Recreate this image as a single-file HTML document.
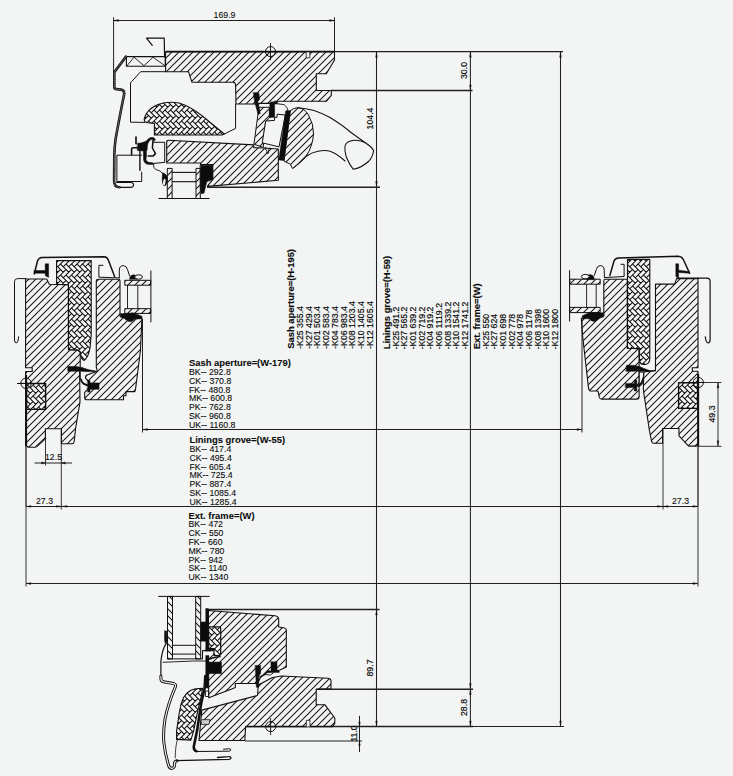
<!DOCTYPE html>
<html><head><meta charset="utf-8"><title>Section drawing</title>
<style>
html,body{margin:0;padding:0;background:#f3f5f4;}
body{width:733px;height:776px;overflow:hidden;font-family:"Liberation Sans",sans-serif;}
svg{display:block;}
svg text{font-family:"Liberation Sans",sans-serif;}
</style></head><body>
<svg width="733" height="776" viewBox="0 0 733 776">
<rect width="733" height="776" fill="#f3f5f4"/>

<defs>
<pattern id="h7" patternUnits="userSpaceOnUse" width="7" height="7">
  <path d="M-1,8 L8,-1 M-1,1 L1,-1 M6,8 L8,6" stroke="#151515" stroke-width="1.05" fill="none"/>
</pattern>
<pattern id="h7b" patternUnits="userSpaceOnUse" width="7" height="7">
  <path d="M-1,-1 L8,8 M-1,6 L1,8 M6,-1 L8,1" stroke="#151515" stroke-width="1.05" fill="none"/>
</pattern>
<pattern id="h5" patternUnits="userSpaceOnUse" width="5" height="5">
  <path d="M-1,6 L6,-1 M-1,1 L1,-1 M4,6 L6,4" stroke="#151515" stroke-width="0.95" fill="none"/>
</pattern>
<pattern id="hb" patternUnits="userSpaceOnUse" width="11" height="22">
<rect width="11" height="22" fill="#f3f5f4"/>
<path d="M-8.25,2.75 L-5.5,0 L0,5.5 L-2.75,8.25 Z M-5.5,0 L0,-5.5 L2.75,-2.75 L-2.75,2.75 Z M-8.25,13.75 L-5.5,11 L0,16.5 L-2.75,19.25 Z M-5.5,11 L0,5.5 L2.75,8.25 L-2.75,13.75 Z M-2.75,2.75 L0,0 L5.5,5.5 L2.75,8.25 Z M0,0 L5.5,-5.5 L8.25,-2.75 L2.75,2.75 Z M-8.25,24.75 L-5.5,22 L0,27.5 L-2.75,30.25 Z M-5.5,22 L0,16.5 L2.75,19.25 L-2.75,24.75 Z M-2.75,13.75 L0,11 L5.5,16.5 L2.75,19.25 Z M0,11 L5.5,5.5 L8.25,8.25 L2.75,13.75 Z M2.75,2.75 L5.5,0 L11,5.5 L8.25,8.25 Z M5.5,0 L11,-5.5 L13.75,-2.75 L8.25,2.75 Z M-2.75,24.75 L0,22 L5.5,27.5 L2.75,30.25 Z M0,22 L5.5,16.5 L8.25,19.25 L2.75,24.75 Z M2.75,13.75 L5.5,11 L11,16.5 L8.25,19.25 Z M5.5,11 L11,5.5 L13.75,8.25 L8.25,13.75 Z M8.25,2.75 L11,0 L16.5,5.5 L13.75,8.25 Z M11,0 L16.5,-5.5 L19.25,-2.75 L13.75,2.75 Z M2.75,24.75 L5.5,22 L11,27.5 L8.25,30.25 Z M5.5,22 L11,16.5 L13.75,19.25 L8.25,24.75 Z M8.25,13.75 L11,11 L16.5,16.5 L13.75,19.25 Z M11,11 L16.5,5.5 L19.25,8.25 L13.75,13.75 Z M8.25,24.75 L11,22 L16.5,27.5 L13.75,30.25 Z M11,22 L16.5,16.5 L19.25,19.25 L13.75,24.75 Z" fill="none" stroke="#0e0e0e" stroke-width="1.05"/>
</pattern>
</defs>

<line x1="113.5" y1="20.5" x2="334.5" y2="20.5" stroke="#202020" stroke-width="1"/>
<line x1="113.6" y1="17.3" x2="113.6" y2="75" stroke="#202020" stroke-width="1"/>
<line x1="334.5" y1="17.3" x2="334.5" y2="60" stroke="#202020" stroke-width="1"/>
<path d="M113.5,20.5 L118.5,19.6 L118.5,21.4 Z" fill="#101010" stroke="#101010" stroke-width="0.3" stroke-linejoin="round" />
<path d="M334.5,20.5 L329.5,19.6 L329.5,21.4 Z" fill="#101010" stroke="#101010" stroke-width="0.3" stroke-linejoin="round" />
<text transform="translate(224.5,18) scale(1.042,1)" font-size="8.4"  text-anchor="middle" fill="#0c0c0c" stroke="#0c0c0c" stroke-width="0.1">169.9</text>
<line x1="334" y1="51.6" x2="563" y2="51.6" stroke="#202020" stroke-width="1.4"/>
<line x1="331" y1="90.5" x2="472.5" y2="90.5" stroke="#202020" stroke-width="1.4"/>
<line x1="376.5" y1="51.8" x2="376.5" y2="726.5" stroke="#202020" stroke-width="1.05"/>
<line x1="470.4" y1="51.8" x2="470.4" y2="726.5" stroke="#202020" stroke-width="1.05"/>
<line x1="560.5" y1="51.8" x2="560.5" y2="726.5" stroke="#202020" stroke-width="1.05"/>
<line x1="207" y1="187.3" x2="380" y2="187.3" stroke="#202020" stroke-width="1.4"/>
<text transform="translate(373.3,118.5) rotate(-90) scale(1.067,1)" font-size="8.2"  text-anchor="middle" fill="#0c0c0c" stroke="#0c0c0c" stroke-width="0.18">104.4</text>
<text transform="translate(466.8,70.5) rotate(-90) scale(1.067,1)" font-size="8.2"  text-anchor="middle" fill="#0c0c0c" stroke="#0c0c0c" stroke-width="0.18">30.0</text>
<path d="M376.5,52.3 L375.6,57.3 L377.4,57.3 Z" fill="#101010" stroke="#101010" stroke-width="0.3" stroke-linejoin="round" />
<path d="M376.5,186.5 L375.6,181.5 L377.4,181.5 Z" fill="#101010" stroke="#101010" stroke-width="0.3" stroke-linejoin="round" />
<path d="M470.4,52.3 L469.5,57.3 L471.3,57.3 Z" fill="#101010" stroke="#101010" stroke-width="0.3" stroke-linejoin="round" />
<path d="M470.4,90 L469.5,85 L471.3,85 Z" fill="#101010" stroke="#101010" stroke-width="0.3" stroke-linejoin="round" />
<path d="M560.5,52.3 L559.6,57.3 L561.4,57.3 Z" fill="#101010" stroke="#101010" stroke-width="0.3" stroke-linejoin="round" />
<line x1="142.5" y1="429.5" x2="582" y2="429.5" stroke="#202020" stroke-width="1.05"/>
<line x1="26" y1="506.4" x2="698" y2="506.4" stroke="#202020" stroke-width="1.05"/>
<line x1="26" y1="583.5" x2="698" y2="583.5" stroke="#202020" stroke-width="1.05"/>
<line x1="26" y1="445" x2="26" y2="506.4" stroke="#202020" stroke-width="1.3"/>
<line x1="26" y1="506.4" x2="26" y2="586.5" stroke="#555" stroke-width="1.2"/>
<line x1="142.5" y1="319" x2="142.5" y2="432.5" stroke="#202020" stroke-width="1"/>
<line x1="45.5" y1="428.8" x2="45.5" y2="465.5" stroke="#202020" stroke-width="0.9"/>
<line x1="61.3" y1="428.8" x2="61.3" y2="509.5" stroke="#202020" stroke-width="0.9"/>
<line x1="34.5" y1="463" x2="72" y2="463" stroke="#202020" stroke-width="1.1"/>
<path d="M45.5,463 L41.5,461.9 L41.5,464.1 Z" fill="#101010" stroke="#101010" stroke-width="0.3" stroke-linejoin="round" />
<path d="M61.3,463 L65.3,461.9 L65.3,464.1 Z" fill="#101010" stroke="#101010" stroke-width="0.3" stroke-linejoin="round" />
<text transform="translate(53.5,460.3) scale(1.042,1)" font-size="8.4"  text-anchor="middle" fill="#0c0c0c" stroke="#0c0c0c" stroke-width="0.1">12.5</text>
<text transform="translate(44.5,504) scale(1.042,1)" font-size="8.4"  text-anchor="middle" fill="#0c0c0c" stroke="#0c0c0c" stroke-width="0.1">27.3</text>
<path d="M26,506.4 L31,505.5 L31,507.3 Z" fill="#101010" stroke="#101010" stroke-width="0.3" stroke-linejoin="round" />
<path d="M61.3,506.4 L56.3,505.5 L56.3,507.3 Z" fill="#101010" stroke="#101010" stroke-width="0.3" stroke-linejoin="round" />
<path d="M62,506.4 L67,505.5 L67,507.3 Z" fill="#101010" stroke="#101010" stroke-width="0.3" stroke-linejoin="round" />
<path d="M26,583.5 L31,582.6 L31,584.4 Z" fill="#101010" stroke="#101010" stroke-width="0.3" stroke-linejoin="round" />
<path d="M698,583.5 L693,582.6 L693,584.4 Z" fill="#101010" stroke="#101010" stroke-width="0.3" stroke-linejoin="round" />
<path d="M142.5,429.5 L147.5,428.6 L147.5,430.4 Z" fill="#101010" stroke="#101010" stroke-width="0.3" stroke-linejoin="round" />
<path d="M582,429.5 L577,428.6 L577,430.4 Z" fill="#101010" stroke="#101010" stroke-width="0.3" stroke-linejoin="round" />
<line x1="698" y1="445" x2="698" y2="506.4" stroke="#202020" stroke-width="1.3"/>
<line x1="698" y1="506.4" x2="698" y2="586.5" stroke="#555" stroke-width="1.2"/>
<line x1="582" y1="319" x2="582" y2="432.5" stroke="#202020" stroke-width="1"/>
<line x1="663" y1="428.8" x2="663" y2="509.5" stroke="#202020" stroke-width="0.9"/>
<text transform="translate(680.5,504) scale(1.042,1)" font-size="8.4"  text-anchor="middle" fill="#0c0c0c" stroke="#0c0c0c" stroke-width="0.1">27.3</text>
<path d="M698,506.4 L693,505.5 L693,507.3 Z" fill="#101010" stroke="#101010" stroke-width="0.3" stroke-linejoin="round" />
<path d="M663,506.4 L668,505.5 L668,507.3 Z" fill="#101010" stroke="#101010" stroke-width="0.3" stroke-linejoin="round" />
<path d="M662.3,506.4 L657.3,505.5 L657.3,507.3 Z" fill="#101010" stroke="#101010" stroke-width="0.3" stroke-linejoin="round" />
<line x1="697.5" y1="382.5" x2="721.5" y2="382.5" stroke="#202020" stroke-width="0.9"/>
<line x1="697.5" y1="446.3" x2="721.5" y2="446.3" stroke="#202020" stroke-width="0.9"/>
<line x1="718" y1="382.5" x2="718" y2="446.3" stroke="#202020" stroke-width="0.9"/>
<path d="M718,383 L717.1,388 L718.9,388 Z" fill="#101010" stroke="#101010" stroke-width="0.3" stroke-linejoin="round" />
<path d="M718,445.8 L717.1,440.8 L718.9,440.8 Z" fill="#101010" stroke="#101010" stroke-width="0.3" stroke-linejoin="round" />
<text transform="translate(715.3,414) rotate(-90) scale(1.067,1)" font-size="8.2"  text-anchor="middle" fill="#0c0c0c" stroke="#0c0c0c" stroke-width="0.18">49.3</text>
<line x1="208" y1="609.5" x2="379.5" y2="609.5" stroke="#202020" stroke-width="1.3"/>
<line x1="316.3" y1="689.25" x2="473" y2="689.25" stroke="#202020" stroke-width="1.5"/>
<line x1="246" y1="726.5" x2="473" y2="726.5" stroke="#202020" stroke-width="1.45"/>
<line x1="473" y1="726.5" x2="564" y2="726.5" stroke="#202020" stroke-width="1"/>
<line x1="245" y1="740.95" x2="362" y2="740.95" stroke="#202020" stroke-width="1.1"/>
<line x1="359.5" y1="715.8" x2="359.5" y2="752" stroke="#202020" stroke-width="1"/>
<path d="M359.5,726 L358.6,722 L360.4,722 Z" fill="#101010" stroke="#101010" stroke-width="0.3" stroke-linejoin="round" />
<path d="M359.5,741.5 L358.6,745.5 L360.4,745.5 Z" fill="#101010" stroke="#101010" stroke-width="0.3" stroke-linejoin="round" />
<text transform="translate(356.5,733.5) rotate(-90) scale(1.067,1)" font-size="8.2"  text-anchor="middle" fill="#0c0c0c" stroke="#0c0c0c" stroke-width="0.18">11.0</text>
<text transform="translate(373.2,668) rotate(-90) scale(1.067,1)" font-size="8.2"  text-anchor="middle" fill="#0c0c0c" stroke="#0c0c0c" stroke-width="0.18">89.7</text>
<text transform="translate(466.8,707.5) rotate(-90) scale(1.067,1)" font-size="8.2"  text-anchor="middle" fill="#0c0c0c" stroke="#0c0c0c" stroke-width="0.18">28.8</text>
<path d="M376.5,610 L375.6,615 L377.4,615 Z" fill="#101010" stroke="#101010" stroke-width="0.3" stroke-linejoin="round" />
<path d="M376.5,726 L375.6,721 L377.4,721 Z" fill="#101010" stroke="#101010" stroke-width="0.3" stroke-linejoin="round" />
<path d="M470.4,689.5 L469.5,694.5 L471.3,694.5 Z" fill="#101010" stroke="#101010" stroke-width="0.3" stroke-linejoin="round" />
<path d="M470.4,726 L469.5,721 L471.3,721 Z" fill="#101010" stroke="#101010" stroke-width="0.3" stroke-linejoin="round" />
<path d="M470.4,688.5 L469.5,683.5 L471.3,683.5 Z" fill="#101010" stroke="#101010" stroke-width="0.3" stroke-linejoin="round" />
<path d="M560.5,726 L559.6,721 L561.4,721 Z" fill="#101010" stroke="#101010" stroke-width="0.3" stroke-linejoin="round" />
<path d="M152.3,45.4 L146.5,38.1 L164.2,38.1 L164.6,57" fill="none" stroke="#101010" stroke-width="1.2" stroke-linejoin="round" stroke-linecap="round" />
<path d="M126.4,56.6 L165.2,56.6 L165.2,66.2 L126.4,66.2 Z" fill="none" stroke="#101010" stroke-width="1.1" stroke-linejoin="round" />
<path d="M127,65.8 L134,57.2 L144,65.8 L153,57.2 L165,65.8" fill="none" stroke="#101010" stroke-width="0.9" stroke-linejoin="round" stroke-linecap="round" />
<path d="M165.6,52 L334.5,52 L334.5,60 L326.3,73.8 L316.3,73.8 L316.3,90.5 L331.3,90.5 L331.3,95.5 L326.3,101.3 L274.8,101.3 L274.8,103.4 L259.2,103.4 L259.2,104 L236,104 L235.6,85 Q235.4,82.4 233,82.3 L191.9,82.2 L188.5,71.7 L165.6,71.7 Z" fill="url(#h7)" stroke="#101010" stroke-width="1.1" stroke-linejoin="round" stroke-linecap="round" />
<path d="M306.2,52 L306.2,57.8 L309.8,57.8 L309.8,52" fill="#f3f5f4" stroke="#101010" stroke-width="0.8" stroke-linejoin="round" stroke-linecap="round" />
<line x1="165.6" y1="51.6" x2="334.5" y2="51.6" stroke="#101010" stroke-width="1.5"/>
<circle cx="270.5" cy="51.6" r="5" fill="none" stroke="#101010" stroke-width="1.0"/>
<line x1="264" y1="51.6" x2="277" y2="51.6" stroke="#101010" stroke-width="0.9"/>
<line x1="270.5" y1="43.1" x2="270.5" y2="60.1" stroke="#101010" stroke-width="0.9"/>
<path d="M165.6,71.7 L140.7,71.7 L130.5,82.8 L130.5,122.2 L144.5,122.4" fill="none" stroke="#101010" stroke-width="1" stroke-linejoin="round" stroke-linecap="round" />
<path d="M235.6,104 L235.6,128.4 L224.3,134" fill="none" stroke="#101010" stroke-width="1" stroke-linejoin="round" stroke-linecap="round" />
<path d="M147.6,122.8 Q143.5,122 144.3,118.4 Q147,109 158,104.5 Q168,100.8 179,103 Q190,106 203,116.5 L224.3,134 L222,135 L154.4,135 L154.4,123.4 Z" fill="url(#hb)" stroke="#101010" stroke-width="1.1" stroke-linejoin="round" stroke-linecap="round" />
<path d="M119,187.4 L131,187.4 Q133.6,187.2 133.6,184.8 Q133.5,182.5 131,182.5 L116.5,182.5" fill="none" stroke="#101010" stroke-width="1.1" stroke-linejoin="round" stroke-linecap="round" />
<path d="M126,56.6 L114.3,72.2 L114.3,87 Q114.3,89 116.3,89.1 L121,89.6 Q124.6,90.5 124.2,94 Q119,120 115.6,139 Q114.4,147 114.3,156 L114.1,181 Q114.2,187.3 119.5,187.3" fill="none" stroke="#101010" stroke-width="2.6" stroke-linejoin="round" stroke-linecap="round" />
<path d="M126,56.6 L114.3,72.2 L114.3,87 Q114.3,89 116.3,89.1 L121,89.6 Q124.6,90.5 124.2,94 Q119,120 115.6,139 Q114.4,147 114.3,156 L114.1,181 Q114.2,187.3 119.5,187.3" fill="none" stroke="#f3f5f4" stroke-width="0.5" stroke-linejoin="round" stroke-linecap="round" stroke-dasharray="0.7 1.4"/>
<path d="M141.7,155.2 L116.9,155.2 L116.9,181.5 L141.7,181.5 L141.7,172.2" fill="none" stroke="#101010" stroke-width="1" stroke-linejoin="round" stroke-linecap="round" />
<path d="M137.6,143.2 L141,143 L146,141.2 L148.5,138.8 L150.3,137.6 L153.6,137.6 L155.4,140 L154.2,141 L152.8,139.6 L150.8,139.6 L149,141.5 L147.6,144 L147,150.5 L146.3,151 L146.6,160.5 L148,162.2 L152.8,162.8 L152.8,164.4 L147,164.2 L144.6,162.5 L143.6,160 L143.4,151 L137.6,150.5 Z" fill="#0c0c0c" stroke="#101010" stroke-width="0.6" stroke-linejoin="round" stroke-linecap="round" />
<path d="M153.9,138.6 L152.9,141 L152.4,148 L155.5,153.6 L153,156.1 L148.2,156.1" fill="none" stroke="#101010" stroke-width="1.5" stroke-linejoin="round" stroke-linecap="round" />
<path d="M131.6,154.6 L131.6,149.2 Q131.6,147.7 133.2,147.7 L139,147.7" fill="none" stroke="#101010" stroke-width="1.6" stroke-linejoin="round" stroke-linecap="round" />
<path d="M136,137 L136,143.6" fill="none" stroke="#101010" stroke-width="1.7" stroke-linejoin="round" stroke-linecap="round" />
<path d="M139.9,150 L139.9,170.2" fill="none" stroke="#101010" stroke-width="1.4" stroke-linejoin="round" stroke-linecap="round" />
<ellipse cx="147.1" cy="159" rx="0.7" ry="1.9" fill="#f3f5f4"/>
<path d="M153.5,142.3 L164.7,142.3 L164.7,162.4 L152.8,163.5" fill="none" stroke="#101010" stroke-width="1" stroke-linejoin="round" stroke-linecap="round" />
<path d="M153.6,164 Q153,168 155.5,169.3 Q161,170.6 162.6,173.4" fill="none" stroke="#101010" stroke-width="0.9" stroke-linejoin="round" stroke-linecap="round" />
<path d="M162.8,173 Q167.8,174 167.3,180 Q166.8,186 164.2,185.8 Q162,184 162.3,178 Q162.3,175 162.8,173 Z" fill="#0c0c0c" stroke="#101010" stroke-width="0.7" stroke-linejoin="round" stroke-linecap="round" />
<ellipse cx="164.3" cy="182" rx="1.2" ry="3.2" fill="#f3f5f4" transform="rotate(8 164.3 182)"/>
<path d="M168.3,140.3 L253.7,144.9 L253.7,147.6 L263.2,148 L278.3,149 L278.3,180.3 L207.3,186.4 L212.7,179.6 L212.7,164.6 L200.5,164.6 L200.5,163 L166.7,163 L166.7,142 Q166.7,140.2 168.3,140.3 Z" fill="url(#h7)" stroke="#101010" stroke-width="1.1" stroke-linejoin="round" stroke-linecap="round" />
<path d="M200.3,165.2 L212.8,165.2 L212.8,179.6 L206.8,181.8 L204,193.2 L201.3,193.8 L200.3,188 Z" fill="#0c0c0c" stroke="#101010" stroke-width="0.5" stroke-linejoin="round" stroke-linecap="round" />
<path d="M167.3,168.4 L172.1,168.4 L172.1,198.5 L167.3,198.5 Z" fill="url(#h7)" stroke="#101010" stroke-width="1" stroke-linejoin="round" />
<path d="M196,168.4 L200.3,168.4 L200.3,198.5 L196,198.5 Z" fill="url(#h7)" stroke="#101010" stroke-width="1" stroke-linejoin="round" />
<line x1="172.1" y1="172.4" x2="196" y2="172.4" stroke="#101010" stroke-width="1.1"/>
<line x1="172.1" y1="181.7" x2="196" y2="181.7" stroke="#101010" stroke-width="1.1"/>
<line x1="158.5" y1="198.5" x2="209.5" y2="198.5" stroke="#101010" stroke-width="1"/>
<path d="M259.3,107.3 L269.4,107.3 L269.4,118 L266,121 L263.2,147.4 L254.3,144.3 Z" fill="url(#h7)" stroke="#101010" stroke-width="1" stroke-linejoin="round" stroke-linecap="round" />
<path d="M253.5,92.7 L258.8,92.7 L259.5,99.5 L257.9,101.5 L260.2,113.6 L258.2,114.6 L254.6,101.5 Z" fill="#0c0c0c" stroke="#101010" stroke-width="0.6" stroke-linejoin="round" stroke-linecap="round" />
<path d="M270.7,101.9 L277.5,101.6 L277.5,103.8 L274.6,104.2 L274.6,117.3 L269.6,117.6 L269.8,104.6 Z" fill="#0c0c0c" stroke="#101010" stroke-width="0.5" stroke-linejoin="round" stroke-linecap="round" />
<path d="M266,121 L274.5,120.4 L274.6,117.4 L277,117.3 L277,114.2 L285.3,115 L279,146.9 L262.6,142.9 Z" fill="#f3f5f4" stroke="#101010" stroke-width="1" stroke-linejoin="round" stroke-linecap="round" />
<path d="M277.5,103.8 L284,104.6 L287,107.5 L288,110.8" fill="none" stroke="#101010" stroke-width="0.9" stroke-linejoin="round" stroke-linecap="round" />
<path d="M265.8,147.2 L265.8,150 L267,150.5 L266.6,153.3 L268.6,153.3 L268.4,150.5 L269.5,148" fill="none" stroke="#101010" stroke-width="0.8" stroke-linejoin="round" stroke-linecap="round" />
<path d="M290.3,110.8 Q293.5,107.7 297.8,107.7 Q304.5,108 308.5,115 Q313.8,124 313.5,134 Q312.8,146 306,156.5 Q300,163.5 292.5,168.5 L290.3,164.2 L284.3,161.2 Z" fill="url(#h7)" stroke="#101010" stroke-width="1" stroke-linejoin="round" stroke-linecap="round" />
<line x1="293.5" y1="168" x2="305.5" y2="157.5" stroke="#101010" stroke-width="0.9"/>
<path d="M285.7,110.7 L290.5,110.7 L284.1,160.6 L278.8,159.9 Z" fill="#0c0c0c" stroke="#101010" stroke-width="0.5" stroke-linejoin="round" />
<path d="M297.8,107.7 Q314,108.5 330,117.5 Q343,125.5 351,132.5 Q360,139 366,143.2" fill="none" stroke="#101010" stroke-width="1.05" stroke-linejoin="round" stroke-linecap="round" />
<path d="M306,156.5 Q311.5,152.3 318,151.2 Q325,150 330,151.2 Q337,153.5 345,161" fill="none" stroke="#101010" stroke-width="1.05" stroke-linejoin="round" stroke-linecap="round" />
<path d="M345,146 Q346,141.2 354,140.2 Q361,140 366,143.2 Q371.5,146.5 373.6,150.5 Q373,156.5 369,161 Q362.5,167.3 353.3,169.3 Q349,164 346.3,157 Q344.3,151 345,146 Z" fill="#f3f5f4" stroke="#101010" stroke-width="1.05" stroke-linejoin="round" stroke-linecap="round" />
<path d="M56.6,260.6 L91.2,260.6 L91.2,335 L90,348 Q88.5,357 84.3,360.4 Q81,360.3 80.4,352 L77.5,350 L68.5,349.6 L68.5,284.6 L56.6,284.4 Z" fill="url(#hb)" stroke="#101010" stroke-width="1.1" stroke-linejoin="round" stroke-linecap="round" />
<path d="M25.6,279 L46.6,279 L49.3,284.3 L68.4,284.8 L68.4,349.8 L77.5,350 L80.2,352.2 L80.2,366 L79.6,372 L80,401.8 L75.5,429 L74.2,441.5 Q73.8,443.8 72,443.8 L61.4,443.8 L61.4,428.7 L45.4,428.7 L45.4,438 L35.3,447.2 L28.3,447.2 L25.6,445 L25.6,371.5 L32.2,371.5 L32.2,367.8 L25.6,367.8 Z" fill="url(#h7)" stroke="#101010" stroke-width="1.1" stroke-linejoin="round" stroke-linecap="round" />
<line x1="36.6" y1="447.2" x2="46.4" y2="438.3" stroke="#101010" stroke-width="0.8"/>
<path d="M26.6,383.5 L45.6,383.5 L45.6,409.4 L26.6,409.4 Z" fill="url(#hb)" stroke="#101010" stroke-width="1.4" stroke-linejoin="round" />
<line x1="26.1" y1="375" x2="26.1" y2="446" stroke="#101010" stroke-width="2"/>
<circle cx="26.05" cy="383.3" r="5.2" fill="none" stroke="#101010" stroke-width="1.0"/>
<line x1="19.55" y1="383.3" x2="32.55" y2="383.3" stroke="#101010" stroke-width="0.9"/>
<line x1="26.05" y1="374.8" x2="26.05" y2="391.8" stroke="#101010" stroke-width="0.9"/>
<line x1="17" y1="383.5" x2="31" y2="383.5" stroke="#101010" stroke-width="1"/>
<path d="M96.3,281 Q96.3,279.3 98,279.3 L118.5,279.3 Q120,279.3 120,281 L120,315.6 L141.9,318 L140.5,350 L135.5,389.5 L134.8,391.6 L126,391.6 L126,395.7 L123.5,395.7 L123.5,399.8 L87,399.8 Q84.7,399.8 84.7,397.5 L84.7,392.4 L88,388.9 L98.7,388.9 L98.7,383.4 L90.5,383.4 L85.8,378.5 Q84.8,376.3 87,375 L97.3,371.2 L96.3,367.2 Z" fill="url(#h7)" stroke="#101010" stroke-width="1.1" stroke-linejoin="round" stroke-linecap="round" />
<path d="M68,366.6 L76,366.4 Q82,367 88,369.6 L95.9,371 L95.9,371.8 L86,371.6 Q81,371 78.5,371.2 L68,371.2 Z" fill="#0c0c0c" stroke="#101010" stroke-width="0.6" stroke-linejoin="round" stroke-linecap="round" />
<path d="M80.3,372 L80.3,379" fill="none" stroke="#101010" stroke-width="0.9" stroke-linejoin="round" stroke-linecap="round" />
<path d="M80.9,379.5 Q82,384.3 88.5,385.6" fill="none" stroke="#101010" stroke-width="1.9" stroke-linejoin="round" stroke-linecap="round" />
<path d="M87.7,380.6 L90,380.6 L90,383.4 L98.7,383.4 L98.7,388.9 L90,388.9 L90,392 L87.7,392 Z" fill="#0c0c0c" stroke="#101010" stroke-width="0.5" stroke-linejoin="round" stroke-linecap="round" />
<path d="M120.5,313.6 L127.5,313.6 L133,312.8 L141.9,316.2 L141.9,318.8 L134.5,319.2 Q131,323.5 127,320.5 Q124,317.5 120.5,317.3 Z" fill="#0c0c0c" stroke="#101010" stroke-width="0.5" stroke-linejoin="round" stroke-linecap="round" />
<path d="M124.8,280.3 L150.7,280.3 L150.7,285.2 L124.8,285.2 Z" fill="url(#h7)" stroke="#101010" stroke-width="1" stroke-linejoin="round" />
<path d="M124.8,308.7 L150.7,308.7 L150.7,313.4 L124.8,313.4 Z" fill="url(#h7)" stroke="#101010" stroke-width="1" stroke-linejoin="round" />
<line x1="127.5" y1="285.2" x2="127.5" y2="308.7" stroke="#101010" stroke-width="0.9"/>
<line x1="137.8" y1="285.2" x2="137.8" y2="308.7" stroke="#101010" stroke-width="0.9"/>
<line x1="150.9" y1="270.5" x2="150.9" y2="322.3" stroke="#101010" stroke-width="1"/>
<path d="M129.6,279.3 Q129.6,275 134,274.8 L137,276 L137,279.3 Z" fill="#0c0c0c" stroke="#101010" stroke-width="0.5" stroke-linejoin="round" stroke-linecap="round" />
<ellipse cx="138.6" cy="277" rx="3.9" ry="2.2" fill="#f3f5f4" stroke="#101010" stroke-width="1"/>
<path d="M119.3,277.8 L119.3,270 Q119.5,265.6 123.4,265.6 Q126.6,265.8 127.5,269.5 L129.6,276" fill="none" stroke="#101010" stroke-width="1" stroke-linejoin="round" stroke-linecap="round" />
<path d="M103,265.3 L98.9,265.3 L98.9,277.2 L119.3,277.9" fill="none" stroke="#101010" stroke-width="1" stroke-linejoin="round" stroke-linecap="round" />
<path d="M34.3,274 L37.5,261 Q38.6,257.6 42,257.4 L104,256.8 Q107.3,257 108.3,260 L114.6,276.6" fill="none" stroke="#101010" stroke-width="1.5" stroke-linejoin="round" stroke-linecap="round" />
<path d="M34.3,270.5 L45.2,270.5 L45.2,263.8 L48.6,263.8 L48.6,277.4 L45.2,275.6 L45.2,273.2 L34.3,273.2 Z" fill="#0c0c0c" stroke="#101010" stroke-width="0.5" stroke-linejoin="round" stroke-linecap="round" />
<path d="M25.6,278.6 L17.5,278.6 Q14.5,278.6 14.5,281.6 L14.5,340 Q14.6,343 16.6,343 Q18.3,342.6 18.6,336.8" fill="none" stroke="#101010" stroke-width="1" stroke-linejoin="round" stroke-linecap="round" />
<path d="M627.5,259.4 L649.8,259.4 L649.8,358 Q649.8,363.5 646,364.3 Q641,365.3 639.6,361.5 L639.1,348.6 L627.5,348.2 Z" fill="url(#hb)" stroke="#101010" stroke-width="1.1" stroke-linejoin="round" stroke-linecap="round" />
<path d="M655.5,284.1 L674.6,284.1 L676.6,278.6 L698,278.6 L698,367.8 L692.3,367.8 L692.3,371.3 L698,371.3 L698,444.5 L696.3,446.1 L688.6,446.1 L679,435.8 L679,428.5 L662.6,428.5 L662.6,443.2 L653.5,443.2 Q652,443 651.6,441.3 L649.4,430.5 L643.3,389.6 L643.8,372.6 L645.5,371.6 L655.5,370.6 Z" fill="url(#h7)" stroke="#101010" stroke-width="1.1" stroke-linejoin="round" stroke-linecap="round" />
<path d="M678.6,382.8 L697.6,382.8 L697.6,408.4 L678.6,408.4 Z" fill="url(#hb)" stroke="#101010" stroke-width="1.4" stroke-linejoin="round" />
<line x1="698.2" y1="374" x2="698.2" y2="446" stroke="#101010" stroke-width="1.9"/>
<circle cx="698.3" cy="382.5" r="5.1" fill="none" stroke="#101010" stroke-width="1.0"/>
<line x1="691.8" y1="382.5" x2="704.8" y2="382.5" stroke="#101010" stroke-width="0.9"/>
<line x1="698.3" y1="374" x2="698.3" y2="391" stroke="#101010" stroke-width="0.9"/>
<path d="M603.8,281 Q603.8,279.3 605.5,279.3 L627.3,279.3 L627.3,348.3 L639.1,348.7 L639.1,397 Q639,399.1 637,399.1 L601.5,399.1 Q599.6,399 599.2,397 L598,391 L590,391 L588.6,388.9 L582.5,335 L581.3,318.2 L603.8,315.5 Z" fill="url(#h7)" stroke="#101010" stroke-width="1.1" stroke-linejoin="round" stroke-linecap="round" />
<path d="M639.6,372 L643.6,372.3 L643.3,380 Q642.5,385.5 639.6,386.5 Z" fill="#f3f5f4" stroke="#101010" stroke-width="0.9" stroke-linejoin="round" stroke-linecap="round" />
<path d="M626.2,366 Q626.2,365.2 627.5,365.2 L634,365.4 Q640,366 644,368.5 L649.6,370.6 L649.6,371.5 L639,371.3 Q636,370.6 634,371.2 L626.2,371.2 Z" fill="#0c0c0c" stroke="#101010" stroke-width="0.6" stroke-linejoin="round" stroke-linecap="round" />
<path d="M649.6,371 L655.5,370.6" fill="none" stroke="#101010" stroke-width="1" stroke-linejoin="round" stroke-linecap="round" />
<path d="M625.5,383.4 L634.3,383.4 L634.3,380 L636.8,380 L636.8,391 L634.3,391 L634.3,387.6 L625.5,387.6 Z" fill="#0c0c0c" stroke="#101010" stroke-width="0.5" stroke-linejoin="round" stroke-linecap="round" />
<path d="M636.8,386.2 Q641.5,385.5 643.2,378.5" fill="none" stroke="#101010" stroke-width="1.8" stroke-linejoin="round" stroke-linecap="round" />
<path d="M569.8,279.2 L600.2,279.2 L600.2,284.2 L569.8,284.2 Z" fill="url(#h7)" stroke="#101010" stroke-width="1" stroke-linejoin="round" />
<path d="M569.8,307.4 L600.2,307.4 L600.2,312.6 L569.8,312.6 Z" fill="url(#h7)" stroke="#101010" stroke-width="1" stroke-linejoin="round" />
<line x1="586.6" y1="284.2" x2="586.6" y2="307.4" stroke="#101010" stroke-width="0.9"/>
<line x1="596.2" y1="284.2" x2="596.2" y2="307.4" stroke="#101010" stroke-width="0.9"/>
<line x1="569.6" y1="270.2" x2="569.6" y2="321.6" stroke="#101010" stroke-width="1"/>
<path d="M603.5,312.8 L596,312.8 L590,312.3 L582.3,315.8 L582.3,318.6 L589,318.8 Q593,323.3 597,320.2 Q600,317.3 603.5,317 Z" fill="#0c0c0c" stroke="#101010" stroke-width="0.5" stroke-linejoin="round" stroke-linecap="round" />
<path d="M594.2,279.2 Q594.2,275 590,274.6 L586.5,275.8 L586.5,279.2 Z" fill="#0c0c0c" stroke="#101010" stroke-width="0.5" stroke-linejoin="round" stroke-linecap="round" />
<ellipse cx="585.3" cy="276.6" rx="3.9" ry="2.2" fill="#f3f5f4" stroke="#101010" stroke-width="1"/>
<path d="M604.4,277.5 L604.2,270 Q604,265.6 600.2,265.6 Q597,265.8 596.3,269.5 L594.3,275.5" fill="none" stroke="#101010" stroke-width="1" stroke-linejoin="round" stroke-linecap="round" />
<path d="M621,264.3 L624.1,264.3 L624.1,276.5 L604.4,277.6" fill="none" stroke="#101010" stroke-width="1" stroke-linejoin="round" stroke-linecap="round" />
<path d="M609.8,275.6 L614,261 Q615,258.2 618.5,257.9 L678,256.3 Q682.3,256.6 683.8,260.5 L689.6,273.2" fill="none" stroke="#101010" stroke-width="1.5" stroke-linejoin="round" stroke-linecap="round" />
<path d="M676,263.8 L678.6,263.8 L678.6,270.2 L689.4,271.6 L689.6,273.3 L678.6,272.4 L678.6,278.3 L676,276.5 Z" fill="#0c0c0c" stroke="#101010" stroke-width="0.5" stroke-linejoin="round" stroke-linecap="round" />
<path d="M677,278.2 L698,278.2" fill="none" stroke="#101010" stroke-width="1.6" stroke-linejoin="round" stroke-linecap="round" />
<path d="M698,278.2 L706.8,278.2 Q710.1,278.3 710.1,281.6 L710.1,340 Q710,343 708,343 Q705.8,342.5 705.3,336.8" fill="none" stroke="#101010" stroke-width="1.2" stroke-linejoin="round" stroke-linecap="round" />
<line x1="158.2" y1="596.4" x2="209.6" y2="596.4" stroke="#101010" stroke-width="1"/>
<path d="M167.5,596.4 L172.5,596.4 L172.5,658.9 L167.5,658.9 Z" fill="url(#h7b)" stroke="#101010" stroke-width="1" stroke-linejoin="round" />
<path d="M195.7,596.4 L200.7,596.4 L200.7,658.9 L195.7,658.9 Z" fill="url(#h7b)" stroke="#101010" stroke-width="1" stroke-linejoin="round" />
<line x1="172.5" y1="645.3" x2="195.7" y2="645.3" stroke="#101010" stroke-width="1"/>
<line x1="172.5" y1="654.1" x2="195.7" y2="654.1" stroke="#101010" stroke-width="1"/>
<path d="M167.5,658.9 L202.5,658.9 L202.5,650.7 L212.8,650.7" fill="none" stroke="#101010" stroke-width="1" stroke-linejoin="round" stroke-linecap="round" />
<path d="M163,662.3 L193.7,661 L205.5,661" fill="none" stroke="#101010" stroke-width="0.9" stroke-linejoin="round" stroke-linecap="round" />
<path d="M208.4,610.5 L275,615.8 Q278.3,616.2 278.7,619 L278.7,627 L284.5,628 Q286.3,628.4 286.3,630 L286.3,667 L280,670 L267.3,672.3 L260.5,677.5 L257.5,683.5 L235.3,683.5 L235.3,687.6 L233,688.5 L208.7,697.8 Z" fill="url(#h7)" stroke="#101010" stroke-width="1.1" stroke-linejoin="round" stroke-linecap="round" />
<path d="M201.8,710.1 L257.5,695.5 L258.3,685 L272.5,677.5 L281.5,676 L328,678.3 Q331,678.5 331,681 L331,688.9 L316.2,689.2 L316.2,704.8 L325,704.8 L334.8,718 L334.8,723.5 L332.5,726.6 L245.6,726.6 L244.8,740.5 L199,740.5 Z" fill="url(#h7)" stroke="#101010" stroke-width="1.1" stroke-linejoin="round" stroke-linecap="round" />
<path d="M306.3,726.6 L306.3,720.3 L310,720.3 L310,726.6" fill="#f3f5f4" stroke="#101010" stroke-width="0.8" stroke-linejoin="round" stroke-linecap="round" />
<circle cx="270.6" cy="726.6" r="5" fill="none" stroke="#101010" stroke-width="1.0"/>
<line x1="264.1" y1="726.6" x2="277.1" y2="726.6" stroke="#101010" stroke-width="0.9"/>
<line x1="270.6" y1="718.1" x2="270.6" y2="735.1" stroke="#101010" stroke-width="0.9"/>
<path d="M201.2,719.7 L210,719.7 L209,724.4 L201.2,724.4 Z" fill="#cfd1d0" stroke="#101010" stroke-width="0.8" stroke-linejoin="round" />
<path d="M206,608.6 L208.2,608.6 L208.2,688 L206,688 Z" fill="#0c0c0c" stroke="#101010" stroke-width="0.6" stroke-linejoin="round" stroke-linecap="round" />
<path d="M200.7,622 L208.7,622 L208.7,641.2 L200.7,641.2 Z" fill="#0c0c0c" stroke="#101010" stroke-width="0.5" stroke-linejoin="round" />
<path d="M210,626.8 L218.5,626.8 Q220.7,626.8 220.7,629 L220.7,653.5 Q220.7,655.5 218.5,655.5 L214,655.5 L214,648.5 L208.7,648.5 L208.7,628 Q208.7,626.8 210,626.8 Z" fill="url(#hb)" stroke="#101010" stroke-width="1.2" stroke-linejoin="round" stroke-linecap="round" />
<path d="M206.6,649.6 L214.2,649.6" fill="none" stroke="#101010" stroke-width="2" stroke-linejoin="round" stroke-linecap="round" />
<path d="M207,656 L207,660 L214,657.5 L220,656.5" fill="none" stroke="#101010" stroke-width="1.4" stroke-linejoin="round" stroke-linecap="round" />
<path d="M202.5,651.4 L212.5,651.4 L212.5,655.3 L202.5,655.3 Z" fill="#f3f5f4" stroke="#f3f5f4" stroke-width="0.01" stroke-linejoin="round" />
<path d="M202.5,658.9 L202.5,650.7 L212.8,650.7" fill="none" stroke="#101010" stroke-width="1" stroke-linejoin="round" stroke-linecap="round" />
<path d="M206.6,662.1 L221.5,662.1 L221.5,673.6 L206.6,673.6 Z" fill="#0c0c0c" stroke="#101010" stroke-width="0.5" stroke-linejoin="round" />
<path d="M255.3,665.4 L260.6,665.4 L260.6,673.4 L258.8,676 L258.6,687.3 L256.4,687.3 L255.8,676 Z" fill="#0c0c0c" stroke="#101010" stroke-width="0.5" stroke-linejoin="round" stroke-linecap="round" />
<path d="M271,661.8 L277,661.8 L277,670.8 L279.3,670.8 L279.3,672.4 L267.3,672.4 L267.3,670.8 L271,670.8 Z" fill="#0c0c0c" stroke="#101010" stroke-width="0.5" stroke-linejoin="round" stroke-linecap="round" />
<path d="M259.5,676.5 L266,674.5 Q270.5,676.5 273.5,673" fill="none" stroke="#101010" stroke-width="0.9" stroke-linejoin="round" stroke-linecap="round" />
<path d="M205.8,691 L208.5,691 L208.5,696.5 L205.8,696.5 Z" fill="#f3f5f4" stroke="#101010" stroke-width="0.9" stroke-linejoin="round" stroke-linecap="round" />
<path d="M202.5,688.3 Q195,688.5 190.9,690.3 Q186,693 183.4,697.8 Q180.5,704 179.3,712.8 L176.6,730.6 L176.6,739.4 L190.9,740.1 L193.7,730.6 L197.1,714.2 L201.2,696.5 Z" fill="url(#hb)" stroke="#101010" stroke-width="1.1" stroke-linejoin="round" stroke-linecap="round" />
<path d="M205.3,676 L204.6,688.3 L201.2,703.3 L197.1,730.6 L193.8,746.5 Q193.6,750.6 196.5,751.2" fill="none" stroke="#101010" stroke-width="2.6" stroke-linejoin="round" stroke-linecap="round" />
<path d="M196.5,751.5 L229.2,751.2 Q231.2,750.8 230.8,749.5 Q230.3,748.5 228.5,748.8 L223.5,749.3" fill="none" stroke="#101010" stroke-width="1" stroke-linejoin="round" stroke-linecap="round" />
<path d="M166.4,643.2 Q162.3,649 160.9,661 L160.9,678.5" fill="none" stroke="#101010" stroke-width="1.2" stroke-linejoin="round" stroke-linecap="round" />
<path d="M160.9,676 L160.9,678.5 Q160.9,681.3 163.5,681.8 L173.5,683.6 Q176.3,684.3 175.3,687 Q168,704 165,719 Q163,732 163.8,742 Q165,754 168.8,766 Q170.2,769 172.5,768.2 Q174.8,767 174.6,764.5 Q174.3,761 177,760.7" fill="none" stroke="#101010" stroke-width="3" stroke-linejoin="round" stroke-linecap="round" />
<path d="M160.9,676 L160.9,678.5 Q160.9,681.3 163.5,681.8 L173.5,683.6 Q176.3,684.3 175.3,687 Q168,704 165,719 Q163,732 163.8,742 Q165,754 168.8,766 Q170.2,769 172.5,768.2 Q174.8,767 174.6,764.5 Q174.3,761 177,760.7" fill="none" stroke="#f3f5f4" stroke-width="1.1" stroke-linejoin="round" stroke-linecap="round" />
<path d="M176,760.6 L229,759.3 Q231.2,759 230.8,757.3 Q230.3,756.4 228.5,756.6 L217.5,757.5" fill="none" stroke="#101010" stroke-width="1.3" stroke-linejoin="round" stroke-linecap="round" />
<path d="M164.7,631 L166.8,631 L167,641.8 L165.2,643.5 Q164,640 164.7,631 Z" fill="#0c0c0c" stroke="#101010" stroke-width="0.5" stroke-linejoin="round" stroke-linecap="round" />
<path d="M177.3,740.1 Q175.5,745 175.2,757.9" fill="none" stroke="#101010" stroke-width="0.8" stroke-linejoin="round" stroke-linecap="round" />
<text transform="translate(189,365.5) scale(1.119,1)" font-size="8.4" font-weight="bold" text-anchor="start" fill="#0c0c0c" stroke="#0c0c0c" stroke-width="0.08">Sash aperture=(W-179)</text>
<text transform="translate(189,375) scale(1.042,1)" font-size="8.4"  text-anchor="start" fill="#0c0c0c" stroke="#0c0c0c" stroke-width="0.1">BK-- 292.8</text>
<text transform="translate(189,383.83) scale(1.042,1)" font-size="8.4"  text-anchor="start" fill="#0c0c0c" stroke="#0c0c0c" stroke-width="0.1">CK-- 370.8</text>
<text transform="translate(189,392.66) scale(1.042,1)" font-size="8.4"  text-anchor="start" fill="#0c0c0c" stroke="#0c0c0c" stroke-width="0.1">FK-- 480.8</text>
<text transform="translate(189,401.49) scale(1.042,1)" font-size="8.4"  text-anchor="start" fill="#0c0c0c" stroke="#0c0c0c" stroke-width="0.1">MK-- 600.8</text>
<text transform="translate(189,410.32) scale(1.042,1)" font-size="8.4"  text-anchor="start" fill="#0c0c0c" stroke="#0c0c0c" stroke-width="0.1">PK-- 762.8</text>
<text transform="translate(189,419.15) scale(1.042,1)" font-size="8.4"  text-anchor="start" fill="#0c0c0c" stroke="#0c0c0c" stroke-width="0.1">SK-- 960.8</text>
<text transform="translate(189,427.98) scale(1.042,1)" font-size="8.4"  text-anchor="start" fill="#0c0c0c" stroke="#0c0c0c" stroke-width="0.1">UK-- 1160.8</text>
<text transform="translate(189.5,442.5) scale(1.119,1)" font-size="8.4" font-weight="bold" text-anchor="start" fill="#0c0c0c" stroke="#0c0c0c" stroke-width="0.08">Linings grove=(W-55)</text>
<text transform="translate(189.5,452) scale(1.042,1)" font-size="8.4"  text-anchor="start" fill="#0c0c0c" stroke="#0c0c0c" stroke-width="0.1">BK-- 417.4</text>
<text transform="translate(189.5,460.83) scale(1.042,1)" font-size="8.4"  text-anchor="start" fill="#0c0c0c" stroke="#0c0c0c" stroke-width="0.1">CK-- 495.4</text>
<text transform="translate(189.5,469.66) scale(1.042,1)" font-size="8.4"  text-anchor="start" fill="#0c0c0c" stroke="#0c0c0c" stroke-width="0.1">FK-- 605.4</text>
<text transform="translate(189.5,478.49) scale(1.042,1)" font-size="8.4"  text-anchor="start" fill="#0c0c0c" stroke="#0c0c0c" stroke-width="0.1">MK-- 725.4</text>
<text transform="translate(189.5,487.32) scale(1.042,1)" font-size="8.4"  text-anchor="start" fill="#0c0c0c" stroke="#0c0c0c" stroke-width="0.1">PK-- 887.4</text>
<text transform="translate(189.5,496.15) scale(1.042,1)" font-size="8.4"  text-anchor="start" fill="#0c0c0c" stroke="#0c0c0c" stroke-width="0.1">SK-- 1085.4</text>
<text transform="translate(189.5,504.98) scale(1.042,1)" font-size="8.4"  text-anchor="start" fill="#0c0c0c" stroke="#0c0c0c" stroke-width="0.1">UK-- 1285.4</text>
<text transform="translate(188.5,519) scale(1.119,1)" font-size="8.4" font-weight="bold" text-anchor="start" fill="#0c0c0c" stroke="#0c0c0c" stroke-width="0.08">Ext. frame=(W)</text>
<text transform="translate(188.5,527.2) scale(1.042,1)" font-size="8.4"  text-anchor="start" fill="#0c0c0c" stroke="#0c0c0c" stroke-width="0.1">BK-- 472</text>
<text transform="translate(188.5,536.03) scale(1.042,1)" font-size="8.4"  text-anchor="start" fill="#0c0c0c" stroke="#0c0c0c" stroke-width="0.1">CK-- 550</text>
<text transform="translate(188.5,544.86) scale(1.042,1)" font-size="8.4"  text-anchor="start" fill="#0c0c0c" stroke="#0c0c0c" stroke-width="0.1">FK-- 660</text>
<text transform="translate(188.5,553.69) scale(1.042,1)" font-size="8.4"  text-anchor="start" fill="#0c0c0c" stroke="#0c0c0c" stroke-width="0.1">MK-- 780</text>
<text transform="translate(188.5,562.52) scale(1.042,1)" font-size="8.4"  text-anchor="start" fill="#0c0c0c" stroke="#0c0c0c" stroke-width="0.1">PK-- 942</text>
<text transform="translate(188.5,571.35) scale(1.042,1)" font-size="8.4"  text-anchor="start" fill="#0c0c0c" stroke="#0c0c0c" stroke-width="0.1">SK-- 1140</text>
<text transform="translate(188.5,580.18) scale(1.042,1)" font-size="8.4"  text-anchor="start" fill="#0c0c0c" stroke="#0c0c0c" stroke-width="0.1">UK-- 1340</text>
<text transform="translate(294,348.8) rotate(-90) scale(1.146,1)" font-size="8.2" font-weight="bold" text-anchor="start" fill="#0c0c0c" stroke="#0c0c0c" stroke-width="0.14">Sash aperture=(H-195)</text>
<text transform="translate(303,348.8) rotate(-90) scale(1.067,1)" font-size="8.2"  text-anchor="start" fill="#0c0c0c" stroke="#0c0c0c" stroke-width="0.18">-K25 355.4</text>
<text transform="translate(311.7,348.8) rotate(-90) scale(1.067,1)" font-size="8.2"  text-anchor="start" fill="#0c0c0c" stroke="#0c0c0c" stroke-width="0.18">-K27 429.4</text>
<text transform="translate(320.4,348.8) rotate(-90) scale(1.067,1)" font-size="8.2"  text-anchor="start" fill="#0c0c0c" stroke="#0c0c0c" stroke-width="0.18">-K01 503.4</text>
<text transform="translate(329.1,348.8) rotate(-90) scale(1.067,1)" font-size="8.2"  text-anchor="start" fill="#0c0c0c" stroke="#0c0c0c" stroke-width="0.18">-K02 583.4</text>
<text transform="translate(337.8,348.8) rotate(-90) scale(1.067,1)" font-size="8.2"  text-anchor="start" fill="#0c0c0c" stroke="#0c0c0c" stroke-width="0.18">-K04 783.4</text>
<text transform="translate(346.5,348.8) rotate(-90) scale(1.067,1)" font-size="8.2"  text-anchor="start" fill="#0c0c0c" stroke="#0c0c0c" stroke-width="0.18">-K06 983.4</text>
<text transform="translate(355.2,348.8) rotate(-90) scale(1.067,1)" font-size="8.2"  text-anchor="start" fill="#0c0c0c" stroke="#0c0c0c" stroke-width="0.18">-K08 1203.4</text>
<text transform="translate(363.9,348.8) rotate(-90) scale(1.067,1)" font-size="8.2"  text-anchor="start" fill="#0c0c0c" stroke="#0c0c0c" stroke-width="0.18">-K10 1405.4</text>
<text transform="translate(372.6,348.8) rotate(-90) scale(1.067,1)" font-size="8.2"  text-anchor="start" fill="#0c0c0c" stroke="#0c0c0c" stroke-width="0.18">-K12 1605.4</text>
<text transform="translate(389.5,349.3) rotate(-90) scale(1.146,1)" font-size="8.2" font-weight="bold" text-anchor="start" fill="#0c0c0c" stroke="#0c0c0c" stroke-width="0.14">Linings grove=(H-59)</text>
<text transform="translate(398.5,349.3) rotate(-90) scale(1.067,1)" font-size="8.2"  text-anchor="start" fill="#0c0c0c" stroke="#0c0c0c" stroke-width="0.18">-K25 491.2</text>
<text transform="translate(407.2,349.3) rotate(-90) scale(1.067,1)" font-size="8.2"  text-anchor="start" fill="#0c0c0c" stroke="#0c0c0c" stroke-width="0.18">-K27 565.2</text>
<text transform="translate(415.9,349.3) rotate(-90) scale(1.067,1)" font-size="8.2"  text-anchor="start" fill="#0c0c0c" stroke="#0c0c0c" stroke-width="0.18">-K01 639.2</text>
<text transform="translate(424.6,349.3) rotate(-90) scale(1.067,1)" font-size="8.2"  text-anchor="start" fill="#0c0c0c" stroke="#0c0c0c" stroke-width="0.18">-K02 719.2</text>
<text transform="translate(433.3,349.3) rotate(-90) scale(1.067,1)" font-size="8.2"  text-anchor="start" fill="#0c0c0c" stroke="#0c0c0c" stroke-width="0.18">-K04 919.2</text>
<text transform="translate(442,349.3) rotate(-90) scale(1.067,1)" font-size="8.2"  text-anchor="start" fill="#0c0c0c" stroke="#0c0c0c" stroke-width="0.18">-K06 1119.2</text>
<text transform="translate(450.7,349.3) rotate(-90) scale(1.067,1)" font-size="8.2"  text-anchor="start" fill="#0c0c0c" stroke="#0c0c0c" stroke-width="0.18">-K08 1339.2</text>
<text transform="translate(459.4,349.3) rotate(-90) scale(1.067,1)" font-size="8.2"  text-anchor="start" fill="#0c0c0c" stroke="#0c0c0c" stroke-width="0.18">-K10 1541.2</text>
<text transform="translate(468.1,349.3) rotate(-90) scale(1.067,1)" font-size="8.2"  text-anchor="start" fill="#0c0c0c" stroke="#0c0c0c" stroke-width="0.18">-K12 1741.2</text>
<text transform="translate(479.5,349.3) rotate(-90) scale(1.146,1)" font-size="8.2" font-weight="bold" text-anchor="start" fill="#0c0c0c" stroke="#0c0c0c" stroke-width="0.14">Ext. frame=(W)</text>
<text transform="translate(488.5,349.3) rotate(-90) scale(1.067,1)" font-size="8.2"  text-anchor="start" fill="#0c0c0c" stroke="#0c0c0c" stroke-width="0.18">-K25 550</text>
<text transform="translate(497.2,349.3) rotate(-90) scale(1.067,1)" font-size="8.2"  text-anchor="start" fill="#0c0c0c" stroke="#0c0c0c" stroke-width="0.18">-K27 624</text>
<text transform="translate(505.9,349.3) rotate(-90) scale(1.067,1)" font-size="8.2"  text-anchor="start" fill="#0c0c0c" stroke="#0c0c0c" stroke-width="0.18">-K01 698</text>
<text transform="translate(514.6,349.3) rotate(-90) scale(1.067,1)" font-size="8.2"  text-anchor="start" fill="#0c0c0c" stroke="#0c0c0c" stroke-width="0.18">-K02 778</text>
<text transform="translate(523.3,349.3) rotate(-90) scale(1.067,1)" font-size="8.2"  text-anchor="start" fill="#0c0c0c" stroke="#0c0c0c" stroke-width="0.18">-K04 978</text>
<text transform="translate(532,349.3) rotate(-90) scale(1.067,1)" font-size="8.2"  text-anchor="start" fill="#0c0c0c" stroke="#0c0c0c" stroke-width="0.18">-K06 1178</text>
<text transform="translate(540.7,349.3) rotate(-90) scale(1.067,1)" font-size="8.2"  text-anchor="start" fill="#0c0c0c" stroke="#0c0c0c" stroke-width="0.18">-K08 1398</text>
<text transform="translate(549.4,349.3) rotate(-90) scale(1.067,1)" font-size="8.2"  text-anchor="start" fill="#0c0c0c" stroke="#0c0c0c" stroke-width="0.18">-K10 1600</text>
<text transform="translate(558.1,349.3) rotate(-90) scale(1.067,1)" font-size="8.2"  text-anchor="start" fill="#0c0c0c" stroke="#0c0c0c" stroke-width="0.18">-K12 1800</text>
</svg>
</body></html>
